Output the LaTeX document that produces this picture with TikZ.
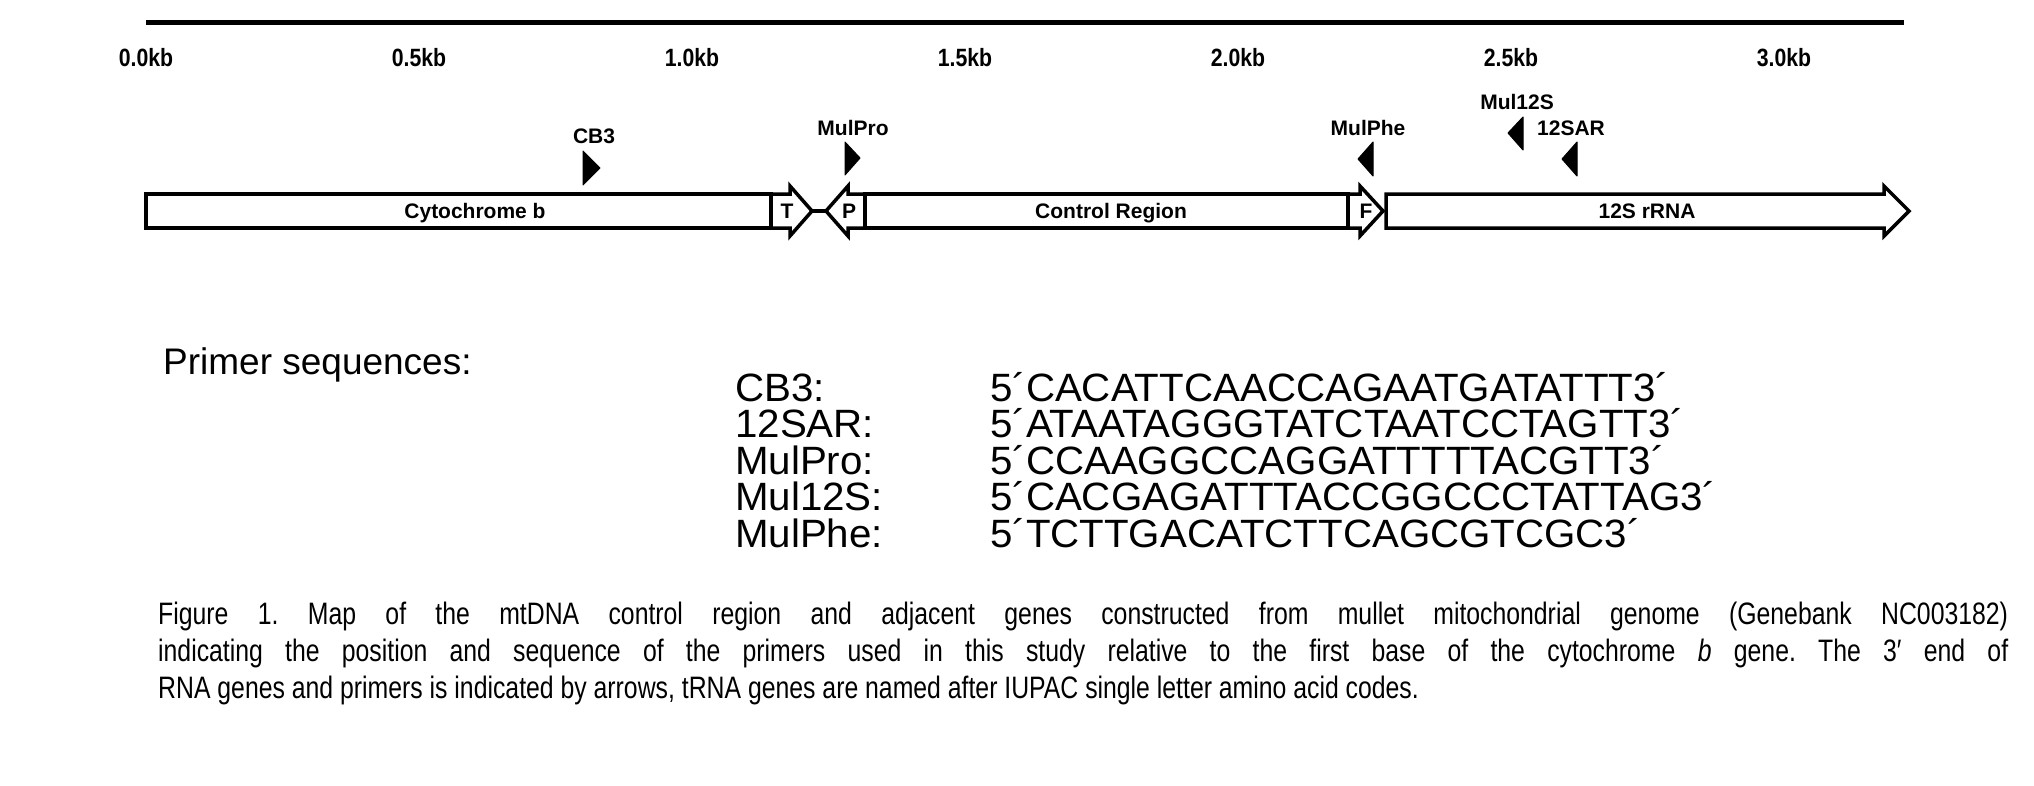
\documentclass[tikz,border=0pt]{standalone}
\usepackage{fontspec}
\setmainfont{Liberation Sans}
\newfontfamily\tickfam[FakeStretch=0.85]{Liberation Sans}
\newfontfamily\capfam[FakeStretch=0.8]{Liberation Sans}
\newfontfamily\seqfam[FakeStretch=1.02]{Liberation Sans}
\newcommand\labfont{\fontsize{21}{25}\selectfont\bfseries}
\newcommand\tickfont{\tickfam\fontsize{25}{30}\selectfont\bfseries}
\newcommand\seqfont{\seqfam\fontsize{39.5}{45}\selectfont}
\newcommand\headfont{\fontsize{37}{42}\selectfont}
\newcommand\capfont{\capfam\fontsize{31}{36}\selectfont}
\tikzset{
  gene/.style={draw, line width=3.5pt, line join=miter, fill=white},
  primer/.style={fill=black, draw=black, line width=1pt, line join=round},
  lab/.style={font=\labfont, inner sep=0pt, anchor=base},
  ticklab/.style={font=\tickfont, inner sep=0pt, anchor=base},
  seq/.style={font=\seqfont, inner sep=0pt, anchor=base west},
  head/.style={font=\headfont, inner sep=0pt, anchor=base west},
  caption/.style={font=\capfont, inner sep=0pt, anchor=base west},
}
\begin{document}
\frenchspacing
\begin{tikzpicture}[x=1pt, y=-1pt]
\useasboundingbox (0,0) rectangle (2034,785);
% scale axis
\coordinate (ax0) at (146,22);
\coordinate (ax1) at (1904,22);
\draw[line width=5pt] (ax0) -- (ax1);
\node[ticklab] (t0) at (146,66) {0.0kb};
\node[ticklab] (t1) at (419,66) {0.5kb};
\node[ticklab] (t2) at (692,66) {1.0kb};
\node[ticklab] (t3) at (965,66) {1.5kb};
\node[ticklab] (t4) at (1238,66) {2.0kb};
\node[ticklab] (t5) at (1511,66) {2.5kb};
\node[ticklab] (t6) at (1784,66) {3.0kb};
% genes
\draw[gene] (146,194) rectangle (771,228);
\draw[gene] (771,194) -- (790,194) -- (790,186) -- (812,211) -- (790,236) -- (790,228) -- (771,228) -- cycle;
\draw[gene] (865,194) -- (848,194) -- (848,186) -- (826,211) -- (848,236) -- (848,228) -- (865,228) -- cycle;
\draw[gene] (865,194) rectangle (1348,228);
\draw[gene] (1348,194) -- (1360,194) -- (1360,186) -- (1383,211) -- (1360,236) -- (1360,228) -- (1348,228) -- cycle;
\draw[gene] (1386,194) -- (1884,194) -- (1884,186) -- (1909,211) -- (1884,236) -- (1884,228) -- (1386,228) -- cycle;
\coordinate (Ttip) at (812,211);
\coordinate (Ptip) at (826,211);
\draw[line width=3.5pt] (Ttip) -- (Ptip);
\node[lab] (cytb) at (475,218.5) {Cytochrome b};
\node[lab] (trnT) at (787,218.5) {T};
\node[lab] (trnP) at (849,218.5) {P};
\node[lab] (cr) at (1111,218.5) {Control Region};
\node[lab] (trnF) at (1366,218.5) {F};
\node[lab] (rrn) at (1647,218.5) {12S rRNA};
% primers
\fill[primer] (583,151) -- (600,168) -- (583,185) -- cycle;
\fill[primer] (845,142) -- (860,158) -- (845,175) -- cycle;
\fill[primer] (1373,142) -- (1358,159) -- (1373,176) -- cycle;
\fill[primer] (1523,117) -- (1508,133) -- (1523,150) -- cycle;
\fill[primer] (1577,142) -- (1562,159) -- (1577,176) -- cycle;
\node[lab] (pCB3) at (594,143) {CB3};
\node[lab] (pPro) at (853,135) {MulPro};
\node[lab] (pPhe) at (1368,135) {MulPhe};
\node[lab] (p12S) at (1517,109) {Mul12S};
\node[lab] (pSAR) at (1571,135) {12SAR};
% primer sequences
\node[head] (hd) at (163,374) {Primer sequences:};
\node[seq] (n1) at (735,401) {CB3:};
\node[seq] (n2) at (735,437.5) {12SAR:};
\node[seq] (n3) at (735,474) {MulPro:};
\node[seq] (n4) at (735,510.5) {Mul12S:};
\node[seq] (n5) at (735,547) {MulPhe:};
\node[seq] (s1) at (990,401) {5´CACATTCAACCAGAATGATATTT3´};
\node[seq] (s2) at (990,437.5) {5´ATAATAGGGTATCTAATCCTAGTT3´};
\node[seq] (s3) at (990,474) {5´CCAAGGCCAGGATTTTTACGTT3´};
\node[seq] (s4) at (990,510.5) {5´CACGAGATTTACCGGCCCTATTAG3´};
\node[seq] (s5) at (990,547) {5´TCTTGACATCTTCAGCGTCGC3´};
% caption
\node[caption] (c1) at (158,624) {\makebox[1850pt][s]{Figure 1. Map of the mtDNA control region and adjacent genes constructed from mullet mitochondrial genome (Genebank NC003182)}};
\node[caption] (c2) at (158,661) {\makebox[1850pt][s]{indicating the position and sequence of the primers used in this study relative to the first base of the cytochrome \textit{b} gene. The 3′ end of}};
\node[caption] (c3) at (158,698) {RNA genes and primers is indicated by arrows, tRNA genes are named after IUPAC single letter amino acid codes.};
\end{tikzpicture}
\end{document}
